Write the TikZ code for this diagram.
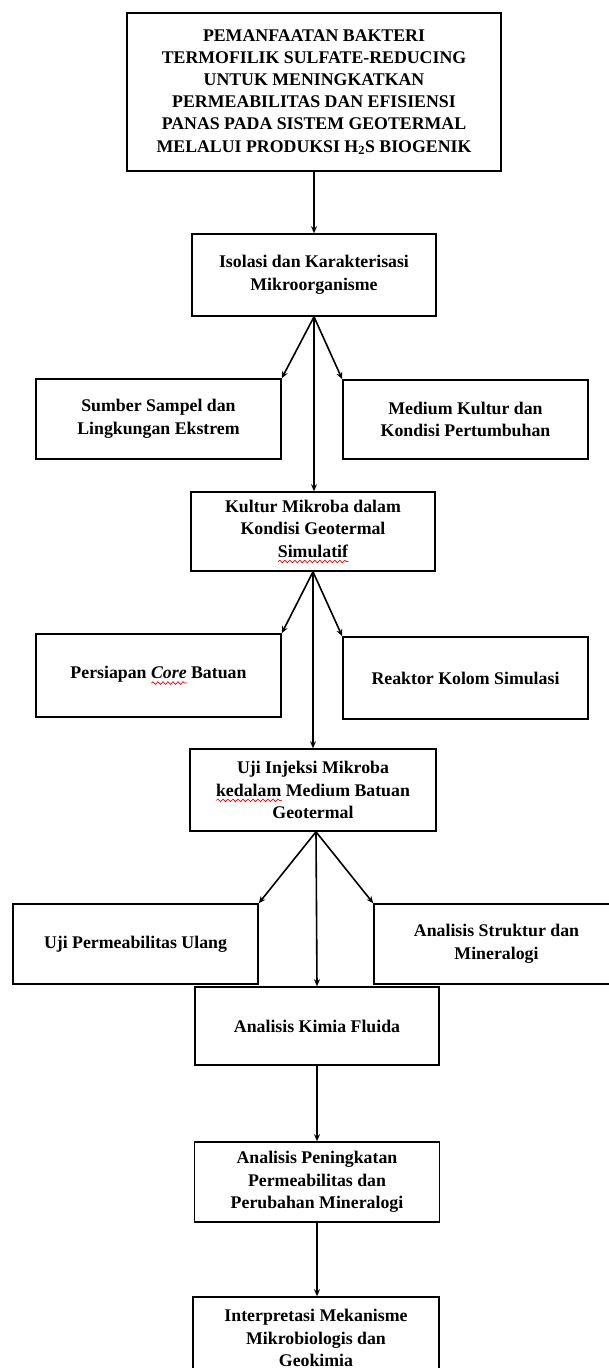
\documentclass[tikz,border=0pt]{standalone}
\usepackage{fontspec}
\setmainfont{Liberation Serif}
\usetikzlibrary{arrows.meta,calc,decorations.pathmorphing}
\newlength\sqlen
\newcommand\redsq[1]{\settowidth\sqlen{#1}\makebox[0pt][l]{\raisebox{-6pt}{\tikz\draw[red,line width=0.7pt,decorate,decoration={snake,amplitude=1.3pt,segment length=5pt}] (0,0) -- (\sqlen,0);}}#1}
\tikzset{
  box/.style={draw, line width=1.6pt, align=center, inner sep=2pt,
    font=\bfseries\fontsize{17.8}{22.5}\selectfont},
  titlebox/.style={box, font=\bfseries\fontsize{17.8}{22.2}\selectfont},
  arr/.style={line width=1.6pt, -{Stealth[length=7pt,width=6pt]}}
}
\begin{document}
\begin{tikzpicture}[x=1pt,y=-1pt]
\fill[white] (0,0) rectangle (608,1368);
\useasboundingbox (0,0) rectangle (608,1368);

\node[titlebox, minimum width=374pt, minimum height=158pt] (title) at (314,92)
 {PEMANFAATAN BAKTERI\\TERMOFILIK SULFATE-REDUCING\\UNTUK MENINGKATKAN\\PERMEABILITAS DAN EFISIENSI\\PANAS PADA SISTEM GEOTERMAL\\MELALUI PRODUKSI H\textsubscript{2}S BIOGENIK};

\node[box, minimum width=244pt, minimum height=82pt] (isol) at (314,275)
 {Isolasi dan Karakterisasi\\Mikroorganisme};
\node[box, minimum width=245pt, minimum height=80pt] (sumber) at (158.5,419)
 {Sumber Sampel dan\\Lingkungan Ekstrem};
\node[box, minimum width=245pt, minimum height=79pt] (medium) at (465.5,419.5)
 {Medium Kultur dan\\Kondisi Pertumbuhan};
\node[box, minimum width=244pt, minimum height=79pt] (kultur) at (313,531.5)
 {Kultur Mikroba dalam\\Kondisi Geotermal\\\redsq{Simulatif}};
\node[box, minimum width=245pt, minimum height=83pt] (persiapan) at (158.5,675.5)
 {Persiapan \redsq{\textit{Core}} Batuan};
\node[box, minimum width=245pt, minimum height=82pt] (reaktor) at (465.5,678)
 {Reaktor Kolom Simulasi};
\node[box, minimum width=246pt, minimum height=82pt] (uji) at (313,790)
 {Uji Injeksi Mikroba\\\redsq{kedalam} Medium Batuan\\Geotermal};
\node[box, minimum width=245pt, minimum height=80pt] (ujiperm) at (135.5,944)
 {Uji Permeabilitas Ulang};
\node[box, minimum width=245pt, minimum height=80pt] (struktur) at (496.5,944)
 {Analisis Struktur dan\\Mineralogi};
\node[box, minimum width=244pt, minimum height=78pt] (kimia) at (317,1026)
 {Analisis Kimia Fluida};
\node[box, minimum width=245pt, minimum height=80pt] (pening) at (317,1182)
 {Analisis Peningkatan\\Permeabilitas dan\\Perubahan Mineralogi};
\node[box, minimum width=246pt, minimum height=82pt] (interp) at (316,1338)
 {Interpretasi Mekanisme\\Mikrobiologis dan\\Geokimia};

\draw[arr] (isol.north |- title.south) -- (isol.north);
\draw[arr] (isol.south) -- (sumber.north east);
\draw[arr] (isol.south) -- (medium.north west);
\draw[arr] (isol.south) -- (isol.south |- kultur.north);
\draw[arr] (kultur.south) -- (persiapan.north east);
\draw[arr] (kultur.south) -- (reaktor.north west);
\draw[arr] (kultur.south) -- (uji.north);
\draw[arr] ($(uji.south)+(3,0)$) -- (ujiperm.north east);
\draw[arr] ($(uji.south)+(3,0)$) -- (struktur.north west);
\draw[arr] ($(uji.south)+(3,0)$) -- (kimia.north);
\draw[arr] (kimia.south) -- (kimia.south |- pening.north);
\draw[arr] (pening.south) -- (pening.south |- interp.north);
\end{tikzpicture}
\end{document}
